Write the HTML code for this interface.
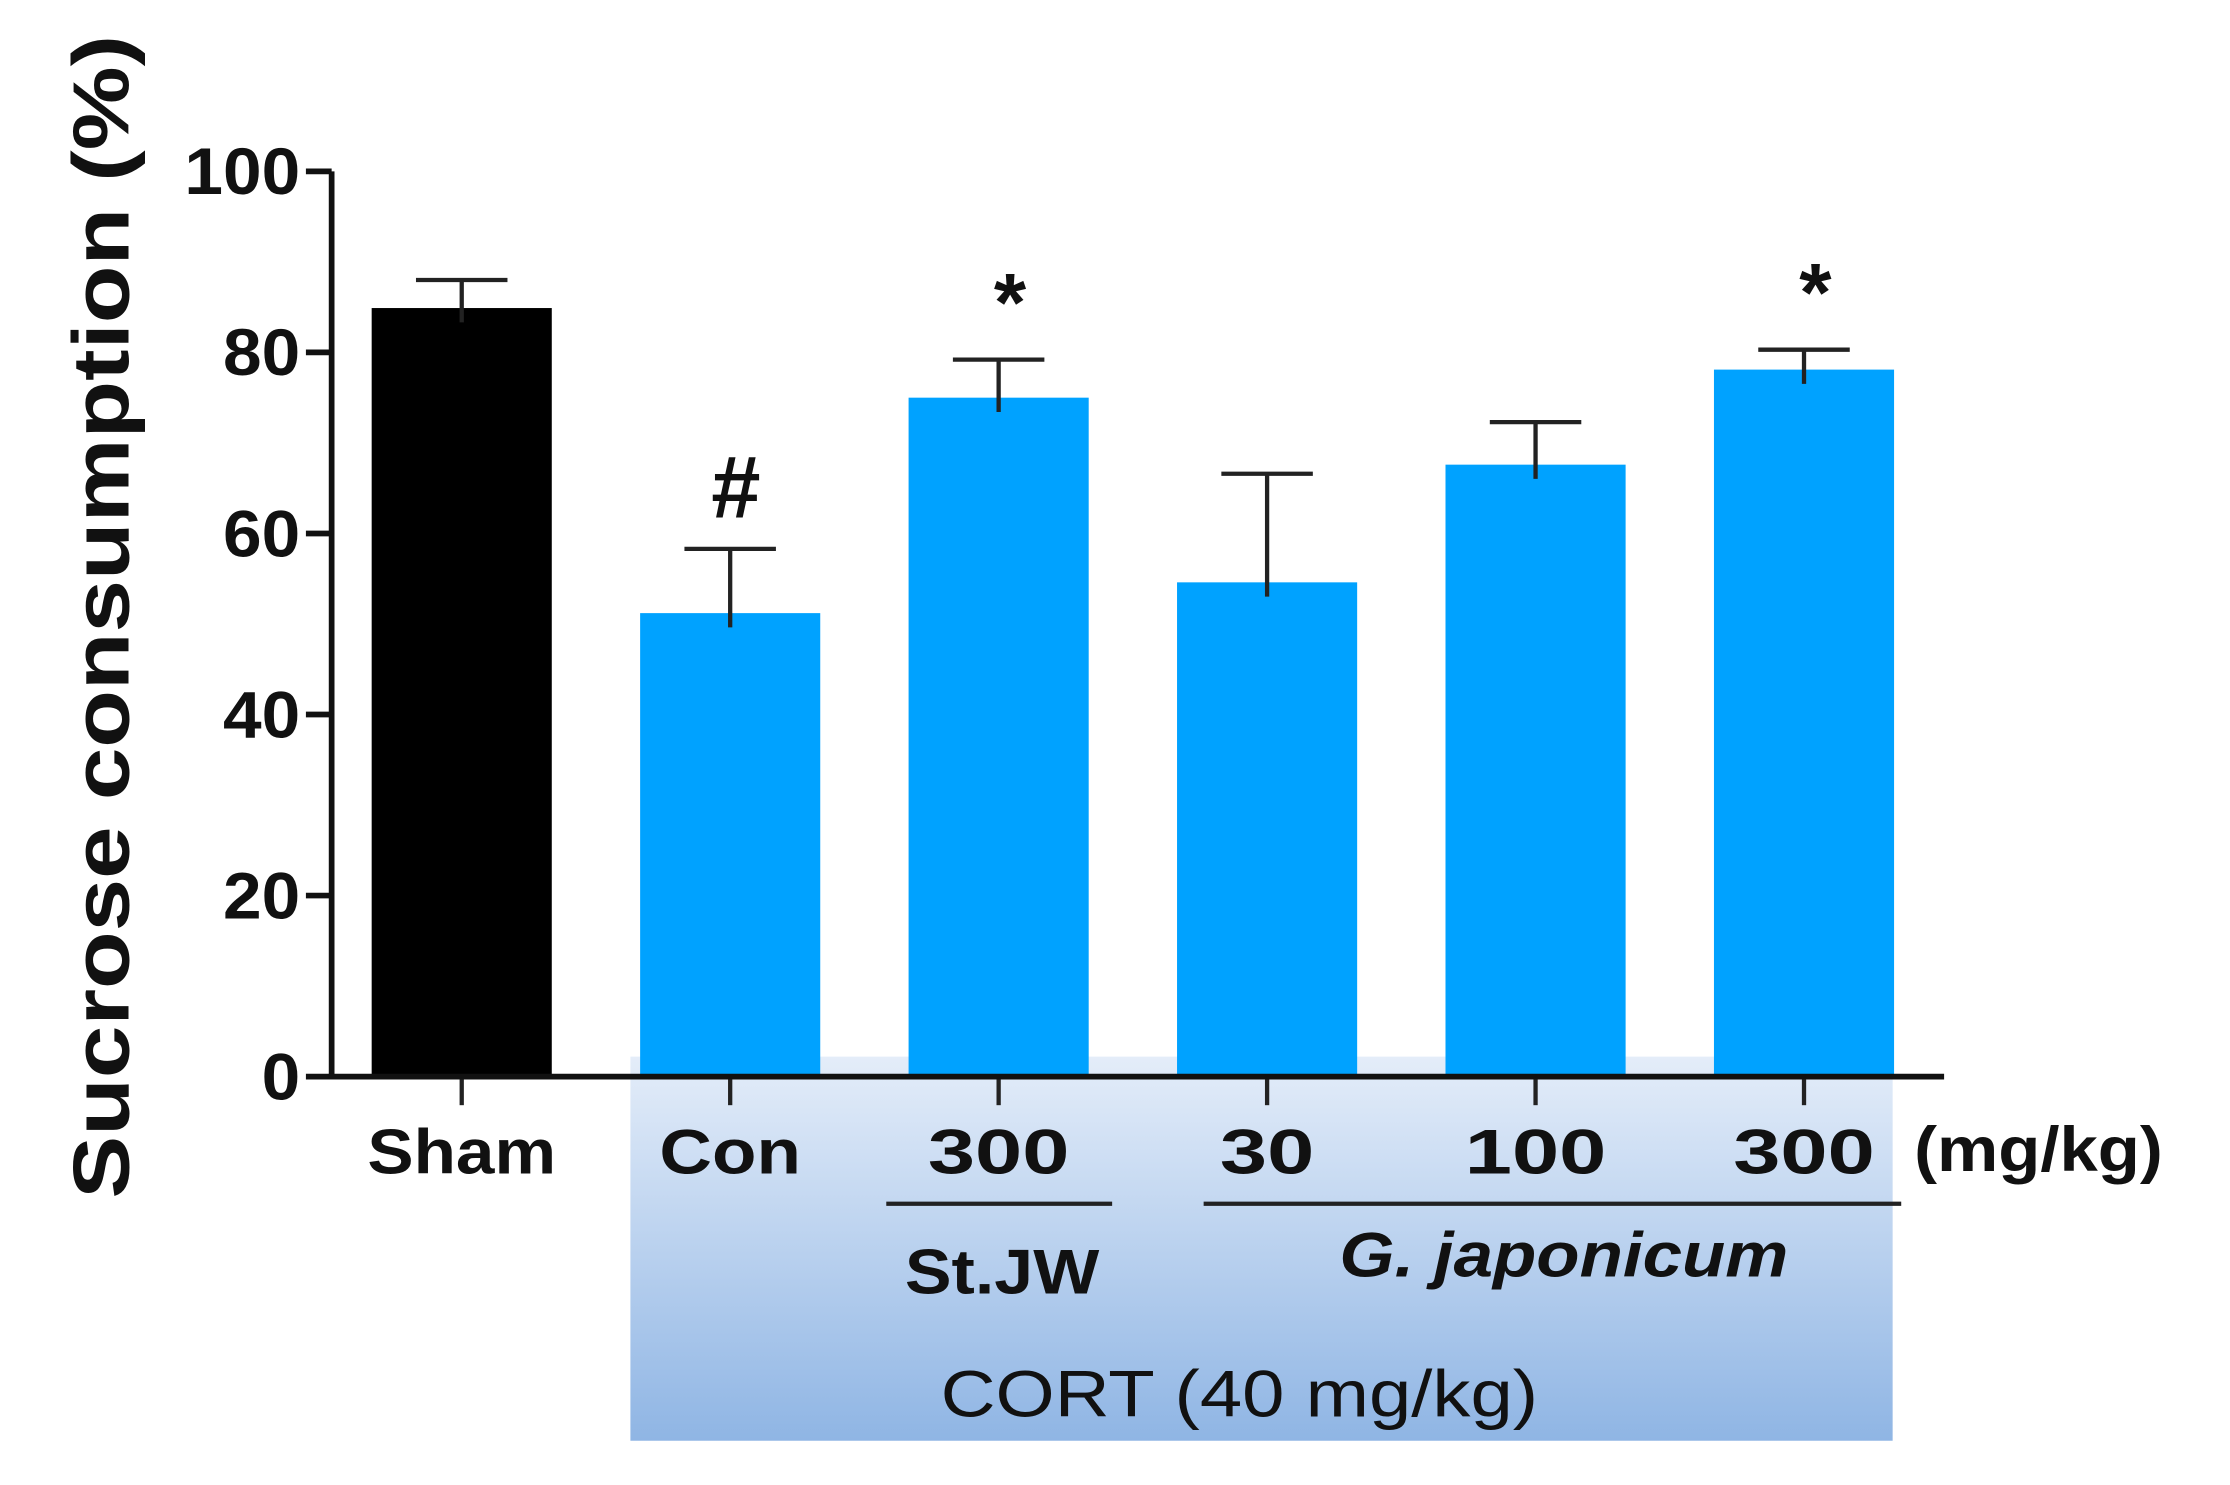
<!DOCTYPE html>
<html><head><meta charset="utf-8">
<style>
html,body{margin:0;padding:0;background:#fff;}
svg{display:block;}
text{font-family:"Liberation Sans",Arial,sans-serif;fill:#111;}
</style></head>
<body>
<svg id="chart" width="2230" height="1485" viewBox="0 0 1560 1040" preserveAspectRatio="none" xmlns="http://www.w3.org/2000/svg">
<defs>
<linearGradient id="cortGrad" x1="0" y1="0" x2="0" y2="1">
<stop offset="0" stop-color="#e4edf9"/>
<stop offset="1" stop-color="#8fb5e4"/>
</linearGradient>
</defs>
<rect x="441" y="740" width="883" height="269" fill="url(#cortGrad)"/>
<g id="bars"></g>
<g id="axes"></g>
<text transform="translate(90,432) rotate(-90)" text-anchor="middle" font-size="56" font-weight="bold" textLength="815" lengthAdjust="spacingAndGlyphs">Sucrose consumption (%)</text>
<text x="1426" y="820" text-anchor="middle" font-size="44" font-weight="bold" textLength="174" lengthAdjust="spacingAndGlyphs">(mg/kg)</text>
<line x1="620" y1="843" x2="778" y2="843" stroke="#222" stroke-width="3"/>
<line x1="842" y1="843" x2="1330" y2="843" stroke="#222" stroke-width="3"/>
<text x="701" y="906" text-anchor="middle" font-size="44" font-weight="bold" textLength="136" lengthAdjust="spacingAndGlyphs">St.JW</text>
<text x="1094" y="894" text-anchor="middle" font-size="44" font-weight="bold" font-style="italic" textLength="314" lengthAdjust="spacingAndGlyphs">G. japonicum</text>
<text x="867" y="992" text-anchor="middle" font-size="46" textLength="418" lengthAdjust="spacingAndGlyphs">CORT (40 mg/kg)</text>
</svg>
<script>
const categories = ["Sham","Con","300","30","100","300"];
const values = [84.9, 51.2, 75.0, 54.6, 67.6, 78.1];
const errors = [3.1, 7.1, 4.2, 12.0, 4.7, 2.2];
const markers = ["", "#", "*", "", "", "*"];
const yTicks = [0,20,40,60,80,100];
const colors = ["#000000","#00a2ff","#00a2ff","#00a2ff","#00a2ff","#00a2ff"];

const NS = "http://www.w3.org/2000/svg";
const y0 = 754, yTop = 120, yMax = 100;
function yScale(v){ return y0 - (v / yMax) * (y0 - yTop); }
const x0 = 323, step = 187.8, barW = 126;
function xScale(i){ return x0 + i * step; }
function mk(tag, attrs, parent){ const e=document.createElementNS(NS,tag); for(const k in attrs) e.setAttribute(k,attrs[k]); parent.appendChild(e); return e; }

const bars = document.getElementById('bars');
const axes = document.getElementById('axes');
categories.forEach((c,i)=>{
  const cx = xScale(i), top = yScale(values[i]), et = yScale(values[i]+errors[i]);
  const r = mk('rect',{x:cx-barW/2,y:top,width:barW,height:y0-top,fill:colors[i]},bars);
  
  
  const ev = mk('line',{x1:cx,x2:cx,y1:top+10,y2:et,stroke:'#222','stroke-width':3},bars);
  
  
  const ec = mk('line',{x1:cx-32,x2:cx+32,y1:et,y2:et,stroke:'#222','stroke-width':3},bars);
  
  
  if(markers[i]){
    const m = mk('text',{x:cx+(markers[i]==='#'?4:8),y:et-(markers[i]==='#'?22:20),'text-anchor':'middle','font-size':markers[i]==='#'?62:58,'font-weight':'bold'},bars);
    m.textContent = markers[i];
    
    
  }
  const t = mk('line',{x1:cx,x2:cx,y1:y0,y2:y0+20,stroke:'#222','stroke-width':3},axes);
  
  
  const lbl = mk('text',{x:cx,y:822,'text-anchor':'middle','font-size':44,'font-weight':'bold',textLength:c.length*33,lengthAdjust:'spacingAndGlyphs'},axes);
  lbl.textContent = c;
  
  
});
yTicks.forEach(v=>{
  const y = yScale(v);
  const t = mk('line',{x1:214,x2:232,y1:y,y2:y,stroke:'#111','stroke-width':4},axes);
  
  
  const l = mk('text',{x:210,y:y+16,'text-anchor':'end','font-size':46,'font-weight':'bold',textLength:String(v).length*27,lengthAdjust:'spacingAndGlyphs'},axes);
  l.textContent = v;
  
  
});
const ya = mk('line',{x1:232,x2:232,y1:yTop,y2:y0+2,stroke:'#111','stroke-width':4},axes);


const xa = mk('line',{x1:230,x2:1360,y1:y0,y2:y0,stroke:'#111','stroke-width':4},axes);


</script>
</body></html>
